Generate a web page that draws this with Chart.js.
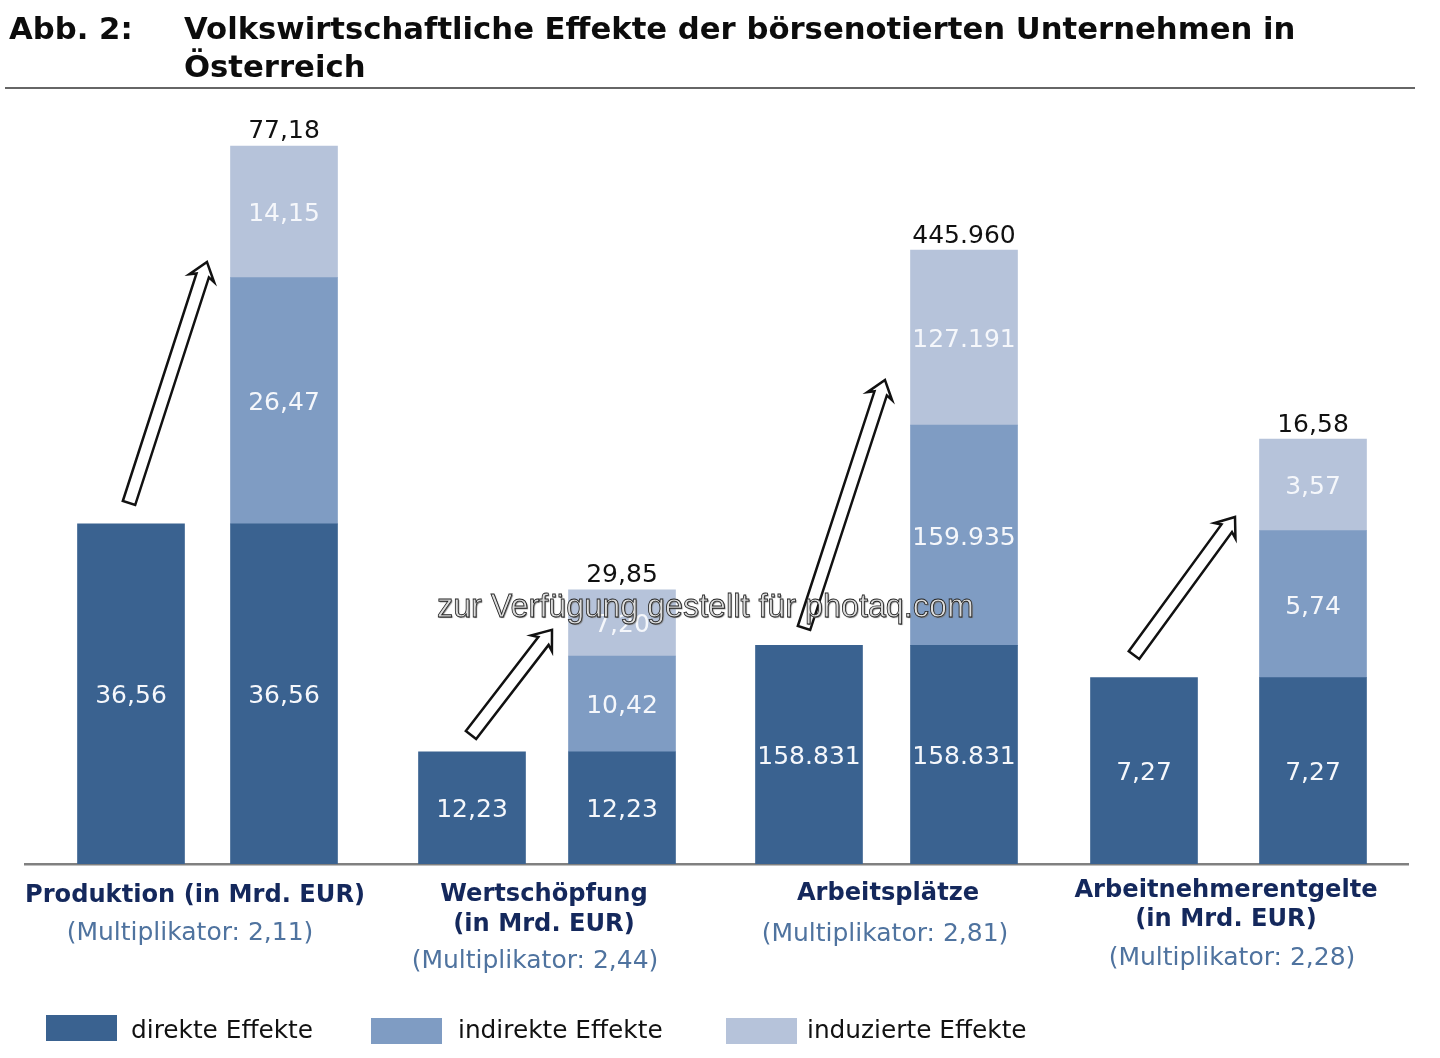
<!DOCTYPE html>
<html lang="de">
<head>
<meta charset="utf-8">
<title>Abb. 2</title>
<script src="https://cdn.jsdelivr.net/npm/chart.js@4"></script>
<style>
    html, body { margin: 0; padding: 0; background: #fff; }
    body { position: relative; width: 1440px; height: 1058px; overflow: hidden; font-family: "DejaVu Sans", sans-serif; }
    #wrap { position: absolute; left: 0; top: 0; width: 1440px; height: 1058px; }
    .t { position: absolute; white-space: nowrap; line-height: 1; }
    .title { font-weight: bold; font-size: 30.7px; color: #0c0c0c; }
    .rule { position: absolute; left: 5px; top: 87px; width: 1410px; height: 2px; background: #666; }
    .cat { font-weight: bold; font-size: 24.15px; color: #14285c; transform: translate(-50%, -50%); }
    .mult { font-size: 25px; color: #4f739f; transform: translate(-50%, -50%); }
    .swatch { position: absolute; width: 71px; height: 26px; }
    .leg { font-size: 24.8px; color: #111; transform: translateY(-50%); }
    .stamp { font-family: "Liberation Sans", sans-serif; font-size: 32.3px; color: #dcdcdc; -webkit-text-stroke: 0.8px #222; text-shadow: 1px 1px 1px #777; }
</style>
</head>
<body>
<div id="wrap"><canvas id="myChart" width="1440" height="1058"></canvas></div>

<div class="t title" style="left:9px;top:14px">Abb. 2:</div>
<div class="t title" style="left:184px;top:14px">Volkswirtschaftliche Effekte der börsenotierten Unternehmen in</div>
<div class="t title" style="left:184px;top:52px">Österreich</div>
<div class="rule"></div>
<div id="labels"></div>
<div class="t stamp" style="left:437px;top:590px">zur Verfügung gestellt für photaq.com</div>

<script>
const groups = ['Produktion', 'Wertschöpfung', 'Arbeitsplätze', 'Arbeitnehmerentgelte'];
const direkt = [36.56, 12.23, 158831, 7.27];
const indirekt = [26.47, 10.42, 159935, 5.74];
const induziert = [14.15, 7.20, 127191, 3.57];
const gesamt = [77.18, 29.85, 445960, 16.58];

const catLines = [
    ['Produktion (in Mrd. EUR)'],
    ['Wertschöpfung', '(in Mrd. EUR)'],
    ['Arbeitsplätze'],
    ['Arbeitnehmerentgelte', '(in Mrd. EUR)']
];
const multiplikator = ['2,11', '2,44', '2,81', '2,28'];
const legendNames = ['direkte Effekte', 'indirekte Effekte', 'induzierte Effekte'];
const colors = ['#3a6290', '#7f9cc3', '#b6c3da'];

// every group has its own hidden value axis, the source is not on a common scale
const axisMax = [92.87, 94.1, 627540, 33.71];
// bar centres along the x axis
const leftSlot = [131, 472, 809, 1144];
const rightSlot = [284, 622, 964, 1313];
// arrows: x from, value from, x to, value to
const arrows = [
    [129, 38.8, 207, 64.7],
    [471, 14.05, 552, 25.5],
    [804, 171400, 885, 351500],
    [1134, 8.15, 1235, 13.54]
];

function fmt(v) {
    if (v >= 1000) return v.toLocaleString('de-DE');
    return v.toLocaleString('de-DE', {minimumFractionDigits: 2, maximumFractionDigits: 2});
}

const datasets = [];
const scales = {
    x: {
        type: 'linear', min: 25, max: 1408, offset: false,
        grid: {display: false},
        ticks: {display: false},
        border: {color: '#808080', width: 2.5}
    }
};
groups.forEach(function (name, i) {
    const axis = 'y' + i;
    scales[axis] = {display: false, stacked: true, min: 0, max: axisMax[i]};
    datasets.push({
        label: name + ' direkt',
        data: [{x: leftSlot[i], y: direkt[i]}],
        yAxisID: axis, stack: 'l' + i, backgroundColor: colors[0]
    });
    datasets.push({
        label: name + ' direkt',
        data: [{x: rightSlot[i], y: direkt[i]}],
        yAxisID: axis, stack: 'r' + i, backgroundColor: colors[0]
    });
    datasets.push({
        label: name + ' indirekt',
        data: [{x: rightSlot[i], y: indirekt[i]}],
        yAxisID: axis, stack: 'r' + i, backgroundColor: colors[1]
    });
    datasets.push({
        label: name + ' induziert',
        data: [{x: rightSlot[i], y: induziert[i]}],
        yAxisID: axis, stack: 'r' + i, backgroundColor: colors[2]
    });
});

function drawArrow(ctx, x0, y0, x1, y1) {
    const shaft = 6.5, head = 13, headLen = 17;
    ctx.save();
    ctx.translate(x1, y1);
    ctx.rotate(Math.atan2(y1 - y0, x1 - x0));
    const len = Math.hypot(x1 - x0, y1 - y0);
    ctx.beginPath();
    ctx.moveTo(0, 0);
    ctx.lineTo(-headLen, head);
    ctx.lineTo(-headLen + 3, shaft);
    ctx.lineTo(-len, shaft);
    ctx.lineTo(-len, -shaft);
    ctx.lineTo(-headLen + 3, -shaft);
    ctx.lineTo(-headLen, -head);
    ctx.closePath();
    ctx.fillStyle = '#fff';
    ctx.fill();
    ctx.lineWidth = 2.5;
    ctx.strokeStyle = '#111';
    ctx.stroke();
    ctx.restore();
}

const barText = {
    id: 'barText',
    afterDatasetsDraw(chart) {
        const ctx = chart.ctx;
        ctx.save();
        ctx.font = '25px "DejaVu Sans"';
        ctx.textAlign = 'center';
        ctx.textBaseline = 'middle';
        chart.data.datasets.forEach(function (ds, d) {
            const bar = chart.getDatasetMeta(d).data[0];
            const mid = (bar.y + bar.base) / 2;
            ctx.fillStyle = '#f5f7fb';
            ctx.fillText(fmt(ds.data[0].y), bar.x, mid + 3);
        });
        groups.forEach(function (name, i) {
            const y = chart.scales['y' + i];
            ctx.fillStyle = '#111';
            ctx.fillText(fmt(gesamt[i]), chart.scales.x.getPixelForValue(rightSlot[i]), y.getPixelForValue(gesamt[i]) - 14);
            const a = arrows[i];
            drawArrow(ctx, chart.scales.x.getPixelForValue(a[0]), y.getPixelForValue(a[1]), chart.scales.x.getPixelForValue(a[2]), y.getPixelForValue(a[3]));
        });
        ctx.restore();
    }
};

new Chart(document.getElementById('myChart'), {
    type: 'bar',
    data: {datasets: datasets},
    options: {
        responsive: false,
        animation: false,
        layout: {padding: {left: 25, right: 32, top: 0, bottom: 186}},
        grouped: false,
        maxBarThickness: 107,
        categoryPercentage: 1,
        barPercentage: 1,
        plugins: {legend: {display: false}, tooltip: {enabled: false}},
        scales: scales
    },
    plugins: [barText]
});

// category captions and legend as page text
const catPos = [
    {x: 195, ys: [894], mx: 190, my: 931},
    {x: 544, ys: [893, 923], mx: 535, my: 959},
    {x: 888, ys: [892], mx: 885, my: 932},
    {x: 1226, ys: [889, 918], mx: 1232, my: 956}
];
const legendPos = [
    {sx: 46, sy: 1015, tx: 131},
    {sx: 371, sy: 1018, tx: 458},
    {sx: 726, sy: 1018, tx: 807}
];
const box = document.getElementById('labels');
function addText(cls, text, x, y) {
    const el = document.createElement('div');
    el.className = 't ' + cls;
    el.textContent = text;
    el.style.left = x + 'px';
    el.style.top = y + 'px';
    box.appendChild(el);
}
catLines.forEach(function (lines, i) {
    lines.forEach(function (line, k) {
        addText('cat', line, catPos[i].x, catPos[i].ys[k]);
    });
    addText('mult', '(Multiplikator: ' + multiplikator[i] + ')', catPos[i].mx, catPos[i].my);
});
legendNames.forEach(function (name, i) {
    const s = document.createElement('div');
    s.className = 'swatch';
    s.style.left = legendPos[i].sx + 'px';
    s.style.top = legendPos[i].sy + 'px';
    s.style.background = colors[i];
    box.appendChild(s);
    addText('leg', name, legendPos[i].tx, 1030);
});
</script>
</body>
</html>
